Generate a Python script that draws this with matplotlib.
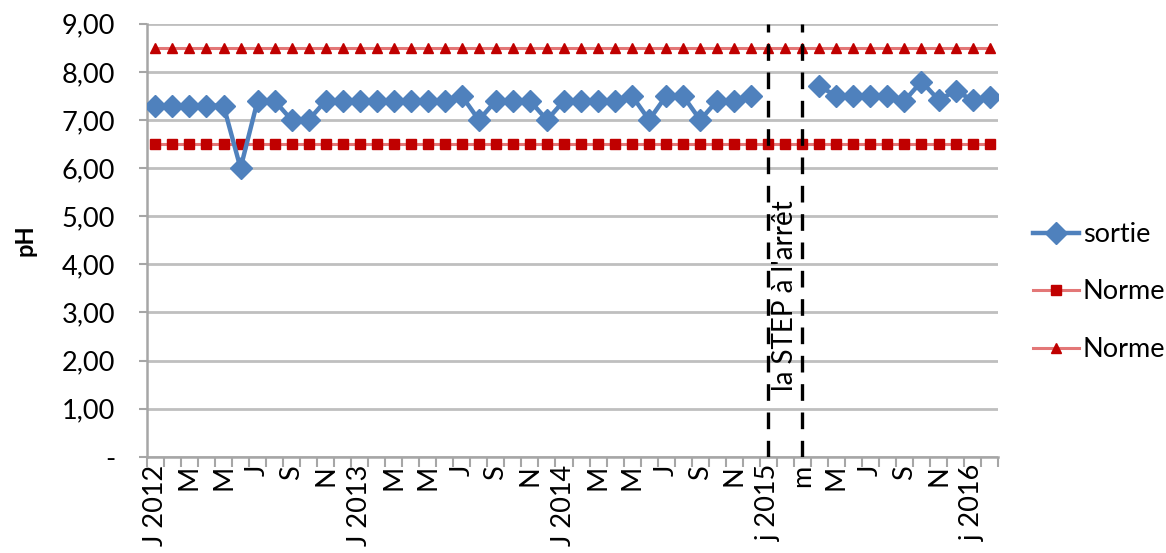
import matplotlib.pyplot as plt
import numpy as np

plt.rcParams['font.family'] = ['Lato', 'DejaVu Sans']

# mois de janvier 2012 a fevrier 2016
mois = ['J 2012', 'F', 'M', 'A', 'M', 'J', 'J', 'A', 'S', 'O', 'N', 'D',
        'J 2013', 'F', 'M', 'A', 'M', 'J', 'J', 'A', 'S', 'O', 'N', 'D',
        'J 2014', 'F', 'M', 'A', 'M', 'J', 'J', 'A', 'S', 'O', 'N', 'D',
        'j 2015', 'f', 'm', 'a', 'M', 'J', 'J', 'A', 'S', 'O', 'N', 'D',
        'j 2016', 'f']

nan = np.nan
sortie = [7.3, 7.3, 7.3, 7.3, 7.3, 6.0, 7.4, 7.4, 7.0, 7.0, 7.4, 7.4,
          7.4, 7.4, 7.4, 7.4, 7.4, 7.4, 7.5, 7.0, 7.4, 7.4, 7.4, 7.0,
          7.4, 7.4, 7.4, 7.4, 7.5, 7.0, 7.5, 7.5, 7.0, 7.4, 7.4, 7.5,
          nan, nan, nan, 7.7, 7.5, 7.5, 7.5, 7.5, 7.4, 7.8, 7.42, 7.6,
          7.42, 7.48]
norme_min = [6.5] * len(mois)
norme_max = [8.5] * len(mois)

# periode d'arret : janvier 2015 -> mars 2015
arret = ['j 2015', 'm']

x = np.arange(len(mois))

fig = plt.figure(figsize=(11.66, 5.53), dpi=100)
ax = fig.add_axes([0.126, 0.174, 0.730, 0.783])

ax.plot(x, sortie, color='#4F81BD', lw=3.2, marker='D', ms=11,
        label='sortie', zorder=4)
ax.plot(x, norme_min, color='#E37777', lw=2.2, marker='s', ms=7,
        mfc='#C00000', mec='#C00000', label='Norme', zorder=3)
ax.plot(x, norme_max, color='#E37777', lw=2.2, marker='^', ms=7,
        mfc='#C00000', mec='#C00000', label='Norme', zorder=3)

i0, i1 = mois.index(arret[0]), mois.index(arret[1])
for i in (i0, i1):
    ax.axvline(i, color='black', lw=2.4, ls=(0, (5, 3.5)), zorder=5)
ax.text((i0 + i1) / 2, 3.35, "la STEP à l'arrêt", rotation=90,
        ha='center', va='center', fontsize=20, zorder=6)

ax.set_xlim(-0.5, len(mois) - 0.5)
ax.set_ylim(0, 9)
ax.set_yticks(range(10))
ax.set_yticklabels(['-'] + ['%d,00' % v for v in range(1, 10)], fontsize=19.5)
ax.set_ylabel('pH', fontsize=17, fontweight='bold')
ax.yaxis.set_label_coords(-0.13, 0.5)

ax.set_xticks(x[::2])
ax.set_xticklabels(mois[::2], rotation=90, fontsize=19.5)
ax.set_xticks(np.arange(len(mois) + 1) - 0.5, minor=True)
ax.tick_params(axis='x', which='major', length=0, pad=6)
ax.tick_params(axis='x', which='minor', length=7, width=1.5, color='#A6A6A6')
ax.tick_params(axis='y', length=6, width=1.5, color='#A6A6A6', pad=17)

ax.grid(axis='y', color='#BFBFBF', lw=2)
ax.set_axisbelow(True)
for side in ('top', 'right'):
    ax.spines[side].set_visible(False)
for side in ('left', 'bottom'):
    ax.spines[side].set_color('#A6A6A6')
    ax.spines[side].set_linewidth(1.8)

fig.legend(loc='center left', bbox_to_anchor=(0.874, 0.472), frameon=False,
           fontsize=19.5, handlelength=1.7, handletextpad=0.15,
           labelspacing=1.2, borderpad=0)

fig.savefig('out.png', dpi=100)
